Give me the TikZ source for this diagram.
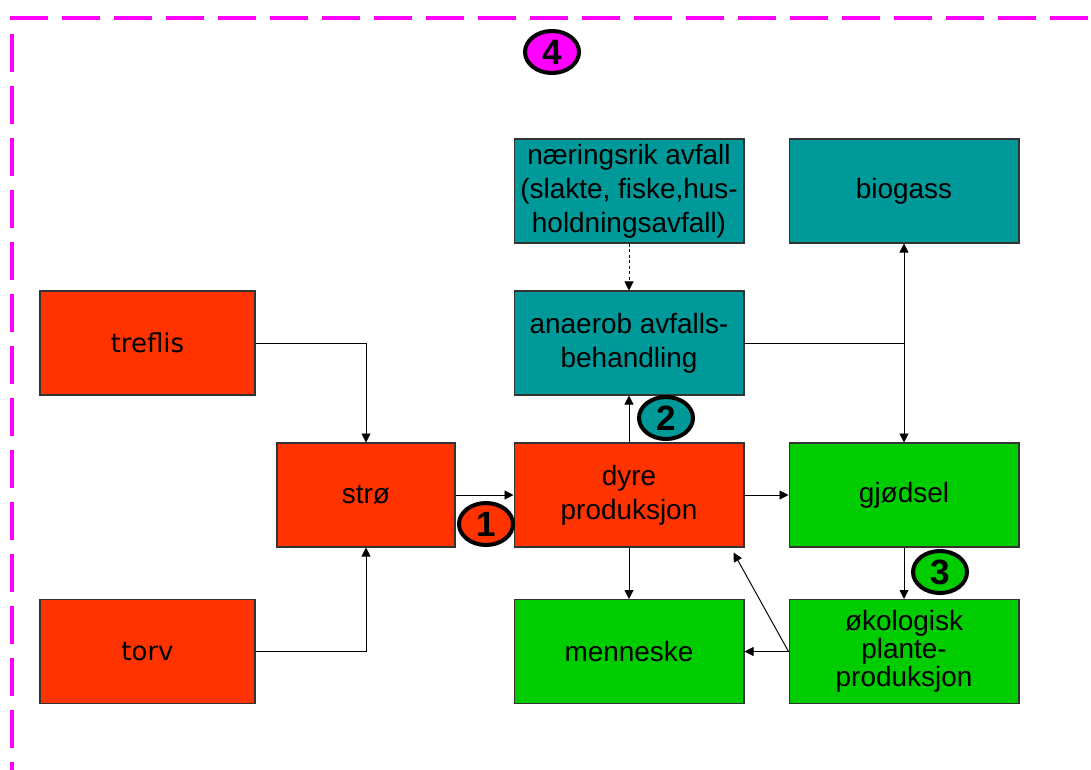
\documentclass[tikz,border=0pt]{standalone}
\usepackage{fontspec}
\setmainfont{Liberation Sans}
\newfontfamily\boxfont{DejaVu Sans}
\usetikzlibrary{arrows.meta,shapes.geometric}
\definecolor{myred}{rgb}{1,0.2,0}
\definecolor{myteal}{rgb}{0,0.6,0.6}
\definecolor{mygreen}{rgb}{0,0.8,0}
\definecolor{mymagenta}{rgb}{1,0,1}

\begin{document}
\begin{tikzpicture}[x=0.02cm,y=-0.02cm,
  box/.style={draw=black!80,line width=0.6pt,minimum width=4.6cm,minimum height=2.08cm,
    inner sep=0pt,align=center,font=\fontsize{15.9}{19.3}\selectfont},
  redbox/.style={box,fill=myred},
  tealbox/.style={box,fill=myteal},
  greenbox/.style={box,fill=mygreen},
  conn/.style={line width=0.55pt,-{Triangle[length=0.18cm,width=0.18cm]}},
  badge/.style={ellipse,draw,line width=2.3pt,minimum width=1.08cm,minimum height=0.84cm,
    inner sep=0pt,font=\fontsize{20}{20}\selectfont\bfseries}]
  \useasboundingbox (0,0) rectangle (1091,769);
  \clip (0,0) rectangle (1091,769);
  % ramme
  \draw[mymagenta,line width=2.5pt,dash pattern=on 0.76cm off 0.28cm] (12,800) -- (12,18) -- (1120,18);
  % boksene
  \node[redbox,minimum width=4.3cm,font=\boxfont\fontsize{14.8}{18}\selectfont] (treflis) at (147.5,343) {treflis};
  \node[redbox,minimum width=4.3cm,font=\boxfont\fontsize{14.8}{18}\selectfont] (torv) at (147.5,651.5) {torv};
  \node[redbox,minimum width=3.56cm] (stro) at (366,495) {strø};
  \node[redbox] (dyre) at (629,495) {dyre\\produksjon};
  \node[tealbox] (anaerob) at (629,343) {anaerob avfalls-\\behandling};
  \node[tealbox] (naering) at (629,191) {næringsrik avfall\\(slakte, fiske,hus-\\holdningsavfall)};
  \node[tealbox] (biogass) at (904,191) {biogass};
  \node[greenbox] (gjodsel) at (904,495) {gjødsel};
  \node[greenbox,font=\fontsize{15.9}{14.8}\selectfont] (oko) at (904,651.5) {økologisk\\plante-\\produksjon};
  \node[greenbox] (menneske) at (629,651.5) {menneske};
  % piler
  \draw[conn] (treflis.east) -| (stro.north);
  \draw[conn] (torv.east) -| (stro.south);
  \draw[conn] (stro) -- (dyre);
  \draw[conn] (dyre) -- (anaerob);
  \draw[conn,dash pattern=on 0.06cm off 0.05cm] (naering) -- (anaerob);
  \draw[conn] (dyre) -- (gjodsel);
  \draw[conn] (dyre) -- (menneske);
  \coordinate (knot) at (anaerob.east -| biogass.south);
  \draw[line width=0.55pt] (anaerob.east) -- (knot);
  \draw[conn] (knot) -- (biogass);
  \draw[conn] (knot) -- (gjodsel);
  \draw[conn] (gjodsel) -- (oko);
  \draw[conn] (oko) -- (menneske);
  \draw[conn] (oko.west) -- ([xshift=-0.22cm,yshift=-0.1cm]dyre.south east);
  % nummer
  \node[badge,fill=myred] (n1) at (486,524) {1};
  \node[badge,fill=myteal] (n2) at (666,418) {2};
  \node[badge,fill=mygreen] (n3) at (940,572) {3};
  \node[badge,fill=mymagenta] (n4) at (552,52) {4};
\end{tikzpicture}
\end{document}
